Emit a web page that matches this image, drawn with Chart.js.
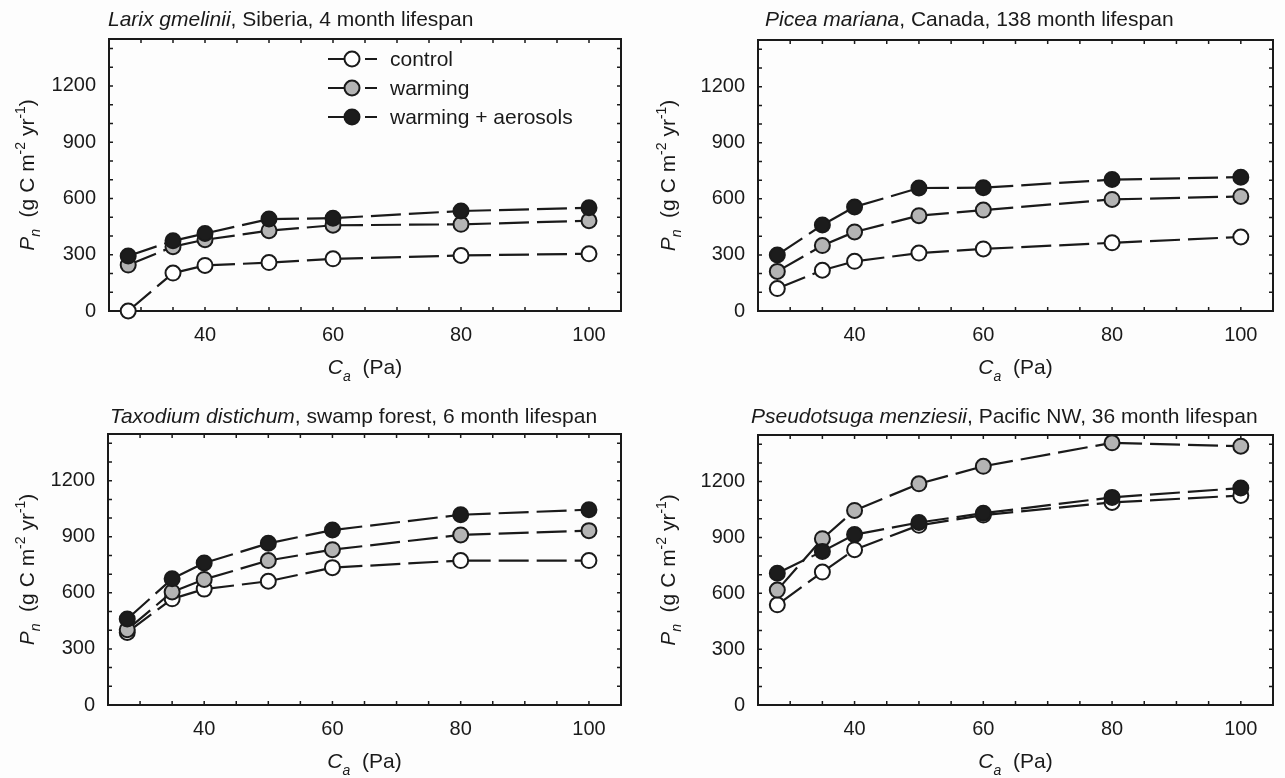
<!DOCTYPE html>
<html>
<head>
<meta charset="utf-8">
<script src="https://cdn.jsdelivr.net/npm/chart.js@4.4.0/dist/chart.umd.min.js"></script>
<style>
html, body { margin: 0; padding: 0; background: #fdfdfd; }
#wrap { position: relative; width: 1285px; height: 778px; overflow: hidden; background: #fdfdfd; }
canvas { position: absolute; }
</style>
</head>
<body>
<div id="wrap">
  <canvas id="c1" width="640" height="390" style="left:0px;top:0px"></canvas>
  <canvas id="c2" width="645" height="390" style="left:640px;top:0px"></canvas>
  <canvas id="c3" width="640" height="388" style="left:0px;top:390px"></canvas>
  <canvas id="c4" width="645" height="388" style="left:640px;top:390px"></canvas>
</div>
<script>
// ---------------- data ----------------
const caValues = [28, 35, 40, 50, 60, 80, 100];
const xTickLabels = [40, 60, 80, 100];
const yTickLabels = [0, 300, 600, 900, 1200];
const xMinorTicks = [25, 30, 35, 40, 45, 50, 55, 60, 65, 70, 75, 80, 85, 90, 95, 100, 105];
const yMinorTicks = [0, 100, 200, 300, 400, 500, 600, 700, 800, 900, 1000, 1100, 1200, 1300, 1400];
const seriesNames = ['control', 'warming', 'warming + aerosols'];

const larixControl  = [0, 202, 243, 258, 278, 296, 305];
const larixWarming  = [245, 343, 380, 428, 457, 462, 481];
const larixAerosols = [293, 374, 413, 490, 495, 533, 550];

const piceaControl  = [120, 218, 266, 310, 332, 365, 396];
const piceaWarming  = [212, 350, 423, 510, 540, 597, 613];
const piceaAerosols = [300, 460, 557, 658, 660, 703, 716];

const taxodiumControl  = [388, 568, 620, 662, 735, 773, 773];
const taxodiumWarming  = [403, 605, 672, 773, 831, 910, 933];
const taxodiumAerosols = [460, 675, 760, 865, 936, 1018, 1045];

const pseudoControl  = [538, 714, 834, 965, 1020, 1088, 1125];
const pseudoWarming  = [617, 893, 1045, 1188, 1282, 1408, 1390];
const pseudoAerosols = [708, 825, 915, 980, 1030, 1115, 1165];

const titleSpecies = ['Larix gmelinii', 'Picea mariana', 'Taxodium distichum', 'Pseudotsuga menziesii'];
const titleRest = [', Siberia, 4 month lifespan', ', Canada, 138 month lifespan', ', swamp forest, 6 month lifespan', ', Pacific NW, 36 month lifespan'];

// ---------------- styling / layout ----------------
const FONT = '"Liberation Sans", Arial, Helvetica, sans-serif';
const INK = '#1a1a1a';
const fills = ['#ffffff', '#b4b4b4', '#1c1c1c'];
const drawOrder = [3, 2, 1];

const panels = [
  { id: 'c1', area: { l: 109, r: 621, t: 39, b: 311 }, title: { x: 108, y: 18 }, yTitleX: 26, legend: true,
    series: [larixControl, larixWarming, larixAerosols] },
  { id: 'c2', area: { l: 118, r: 633, t: 40, b: 311 }, title: { x: 125, y: 18 }, yTitleX: 27, legend: false,
    series: [piceaControl, piceaWarming, piceaAerosols] },
  { id: 'c3', area: { l: 108, r: 621, t: 44, b: 315 }, title: { x: 110, y: 25 }, yTitleX: 26, legend: false,
    series: [taxodiumControl, taxodiumWarming, taxodiumAerosols] },
  { id: 'c4', area: { l: 118, r: 633, t: 45, b: 315 }, title: { x: 111, y: 25 }, yTitleX: 27, legend: false,
    series: [pseudoControl, pseudoWarming, pseudoAerosols] }
];

function fontFor(p, base) {
  const size = (p.sub || p.sup) ? Math.round(base * 0.68) : base;
  return (p.it ? 'italic ' : '') + size + 'px ' + FONT;
}
function richWidth(ctx, parts, base) {
  let w = 0;
  parts.forEach(p => { ctx.font = fontFor(p, base); w += ctx.measureText(p.t).width; });
  return w;
}
function drawRich(ctx, parts, x, baseline, base, align) {
  const w = richWidth(ctx, parts, base);
  let cx = align === 'center' ? x - w / 2 : x;
  ctx.textAlign = 'left';
  ctx.textBaseline = 'alphabetic';
  parts.forEach(p => {
    ctx.font = fontFor(p, base);
    const dy = p.sub ? base * 0.32 : (p.sup ? -base * 0.42 : 0);
    ctx.fillText(p.t, cx, baseline + dy);
    cx += ctx.measureText(p.t).width;
  });
}

const decorPlugin = {
  id: 'decor',
  beforeDraw(chart) {
    const ctx = chart.ctx;
    ctx.save();
    ctx.fillStyle = '#fdfdfd';
    ctx.fillRect(0, 0, chart.width, chart.height);
    ctx.restore();
  },
  beforeDatasetsDraw(chart) {
    const ctx = chart.ctx, a = chart.chartArea, xs = chart.scales.x, ys = chart.scales.y;
    const TL = 4;
    ctx.save();
    ctx.strokeStyle = INK;
    ctx.lineWidth = 1.5;
    ctx.beginPath();
    xMinorTicks.forEach(v => {
      const px = xs.getPixelForValue(v);
      ctx.moveTo(px, a.bottom); ctx.lineTo(px, a.bottom - TL);
      ctx.moveTo(px, a.top); ctx.lineTo(px, a.top + TL);
    });
    yMinorTicks.forEach(v => {
      const py = ys.getPixelForValue(v);
      ctx.moveTo(a.left, py); ctx.lineTo(a.left + TL, py);
      ctx.moveTo(a.right, py); ctx.lineTo(a.right - TL, py);
    });
    ctx.stroke();
    ctx.lineWidth = 2;
    ctx.strokeRect(a.left, a.top, a.right - a.left, a.bottom - a.top);
    ctx.restore();
  },
  afterDraw(chart, args, opts) {
    const ctx = chart.ctx, a = chart.chartArea;
    const pi = opts.index;
    const P = panels[pi];
    ctx.save();
    ctx.fillStyle = INK;
    // panel title
    drawRich(ctx, [{ t: titleSpecies[pi], it: true }, { t: titleRest[pi] }], P.title.x, P.title.y + 7.5, 21, 'left');
    // x axis title
    drawRich(ctx, [{ t: 'C', it: true }, { t: 'a', it: true, sub: true }, { t: '  (Pa)' }],
      (a.left + a.right) / 2, a.bottom + 63, 21, 'center');
    // y axis title
    ctx.save();
    ctx.translate(P.yTitleX, (a.top + a.bottom) / 2);
    ctx.rotate(-Math.PI / 2);
    drawRich(ctx, [{ t: 'P', it: true }, { t: 'n', it: true, sub: true }, { t: '  (g C m' }, { t: '-2', sup: true },
      { t: ' yr' }, { t: '-1', sup: true }, { t: ')' }], 0, 7.5, 21, 'center');
    ctx.restore();
    // legend
    if (P.legend) {
      const rows = [59, 88, 117];
      seriesNames.forEach((name, i) => {
        const y = rows[i];
        ctx.strokeStyle = INK;
        ctx.lineWidth = 2.2;
        ctx.beginPath();
        ctx.moveTo(328, y); ctx.lineTo(352, y);
        ctx.moveTo(365, y); ctx.lineTo(377, y);
        ctx.stroke();
        ctx.lineWidth = 2;
        ctx.beginPath();
        ctx.arc(352, y, 7.5, 0, Math.PI * 2);
        ctx.fillStyle = fills[i];
        ctx.fill();
        ctx.stroke();
        ctx.fillStyle = INK;
        ctx.font = '21px ' + FONT;
        ctx.textAlign = 'left';
        ctx.textBaseline = 'alphabetic';
        ctx.fillText(name, 390, y + 7);
      });
    }
    ctx.restore();
  }
};

panels.forEach((P, pi) => {
  const canvas = document.getElementById(P.id);
  const W = canvas.width, H = canvas.height;
  const xAxisH = 40;
  const datasets = P.series.map((vals, si) => ({
    label: seriesNames[si],
    data: caValues.map((x, k) => ({ x: x, y: vals[k] })),
    borderColor: INK,
    borderWidth: 2.2,
    borderDash: [30, 8],
    pointRadius: 7.5,
    pointHoverRadius: 7.5,
    pointBorderWidth: 2,
    pointBorderColor: INK,
    pointBackgroundColor: fills[si],
    backgroundColor: fills[si],
    fill: false,
    tension: 0,
    clip: false,
    order: drawOrder[si],
    segment: { borderDashOffset: c => c.p0DataIndex * 0.001 }
  }));
  new Chart(canvas, {
    type: 'line',
    data: { datasets },
    plugins: [decorPlugin],
    options: {
      responsive: false,
      animation: false,
      devicePixelRatio: 1,
      events: [],
      layout: {
        autoPadding: false,
        padding: { left: 0, top: P.area.t, right: W - P.area.r, bottom: H - P.area.b - xAxisH }
      },
      plugins: {
        legend: { display: false },
        tooltip: { enabled: false },
        title: { display: false },
        decor: { index: pi }
      },
      scales: {
        x: {
          type: 'linear', min: 25, max: 105,
          afterBuildTicks: s => { s.ticks = xTickLabels.map(v => ({ value: v })); },
          afterFit: s => { s.height = xAxisH; },
          grid: { display: false, drawTicks: false },
          border: { display: false },
          ticks: { callback: v => String(v), color: INK, font: { family: FONT, size: 20 }, padding: 12, autoSkip: false, maxRotation: 0 }
        },
        y: {
          type: 'linear', min: 0, max: 1450,
          afterBuildTicks: s => { s.ticks = yTickLabels.map(v => ({ value: v })); },
          afterFit: s => { s.width = P.area.l; },
          grid: { display: false, drawTicks: false },
          border: { display: false },
          ticks: { callback: v => String(v), color: INK, font: { family: FONT, size: 20 }, padding: 13, autoSkip: false }
        }
      }
    }
  });
});
</script>
</body>
</html>
